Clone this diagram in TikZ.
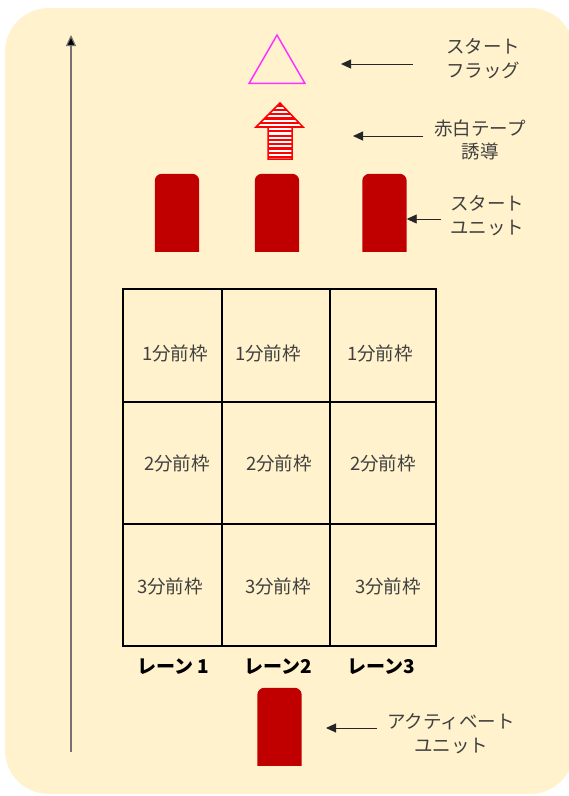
\documentclass[tikz,border=0pt]{standalone}
\usepackage{fontspec}
\newfontfamily\jp{Noto Sans CJK JP}
\usetikzlibrary{arrows.meta,positioning,shapes.geometric}
\definecolor{cream}{HTML}{FFF2CC}
\definecolor{unitred}{HTML}{C00000}
\definecolor{txtgray}{HTML}{404040}
\definecolor{flagpink}{HTML}{FF33FF}

\begin{document}
\begin{tikzpicture}[x=1pt,y=-1pt,font=\jp\fontsize{18.5}{23.5}\selectfont,>={Triangle[length=10pt,width=9pt]}]
\tikzstyle{note} = [text=txtgray, align=center, inner sep=0pt]
\tikzstyle{lane} = [font=\jp\bfseries\fontsize{19}{22}\selectfont, inner sep=0pt]
\tikzstyle{pointer} = [draw=black!85, line width=0.9pt, ->]
\tikzstyle{unit} = [rectangle, minimum width=44pt, minimum height=77pt, inner sep=0pt]
\tikzstyle{flag} = [regular polygon, regular polygon sides=3, draw=flagpink,
    line width=1.5pt, minimum size=64.5pt, inner sep=0pt]
\tikzstyle{grid} = [line width=1.4pt, line cap=rect]
\newcommand{\fillunit}[1]{%
  \begin{scope}
  \clip (#1.north west) rectangle (#1.south east);
  \fill[unitred, rounded corners=7pt] (#1.north west) rectangle ([yshift=-20pt]#1.south east);
  \end{scope}}

\useasboundingbox (0,0) rectangle (569,796);
\fill[white] (0,0) rectangle (569,796);
\fill[cream, rounded corners=44pt] (5,8) rectangle (574,794);

% time axis
\coordinate (axisfoot) at (71,752);
\coordinate (axistop) at (71,35);
\draw[line width=1.2pt, draw=black!55, -{Triangle[length=11pt,width=10pt,fill=black]}] (axisfoot) -- (axistop);

% start flag
\node[flag] (flag) at (277,67.3) {};
\node[note] (flaglbl) at (483,58.5) {スタート\\フラッグ};
\coordinate (flagtail) at (413,64);
\coordinate (flaghead) at (341,64);
\draw[pointer] (flagtail) -- (flaghead);

% red/white tape
\begin{scope}
\clip (280,103) -- (303,127) -- (292,127) -- (292,159) -- (268,159) -- (268,127) -- (256,127) -- cycle;
\fill[white] (250,100) rectangle (310,162);
\foreach \y in {105.5,109.8,...,160} \draw[red, line width=2.2pt] (250,\y) -- (310,\y);
\end{scope}
\draw[red, line width=1.5pt, line join=miter] (280,103) -- (303,127) -- (292,127) -- (292,159) -- (268,159) -- (268,127) -- (256,127) -- cycle;
\node[note] (tapelbl) at (480,140) {赤白テープ\\誘導};
\coordinate (tapetail) at (423,136);
\coordinate (tapehead) at (353,136);
\draw[pointer] (tapetail) -- (tapehead);

% start units
\foreach \n/\x in {1/177,2/277,3/384.5}{
  \node[unit] (unit\n) at (\x,212.5) {};
  \fillunit{unit\n}
}
\node[note] (unitlbl) at (487,215.5) {スタート\\ユニット};
\coordinate (unittail) at (441,219);
\draw[pointer] (unittail) -- (unit3.east |- unittail);

% frames
\foreach \x in {123,222,330,436} \draw[grid] (\x,289) -- (\x,646);
\foreach \y in {289,402,524,646} \draw[grid] (123,\y) -- (436,\y);
\foreach \t/\x/\y [count=\i] in {1/175/353, 1/268/353, 1/380/353,
    2/177/463, 2/279/463, 2/383/463, 3/170/586, 3/278/586, 3/388/586}
  \node[note] (frame\i) at (\x,\y) {{\t}分前枠};

% lanes
\foreach \t/\x [count=\i] in {レーン\ 1/173, レーン2/278, レーン3/381}
  \node[lane] (lane\i) at (\x,667) {\t};

% activate unit
\node[unit] (actunit) at (279.5,726.5) {};
\fillunit{actunit}
\node[note] (actlbl) at (451,733.5) {アクティベート\\ユニット};
\coordinate (acttail) at (377,728);
\coordinate (acthead) at (326,728);
\draw[pointer] (acttail) -- (acthead);

\end{tikzpicture}
\end{document}
